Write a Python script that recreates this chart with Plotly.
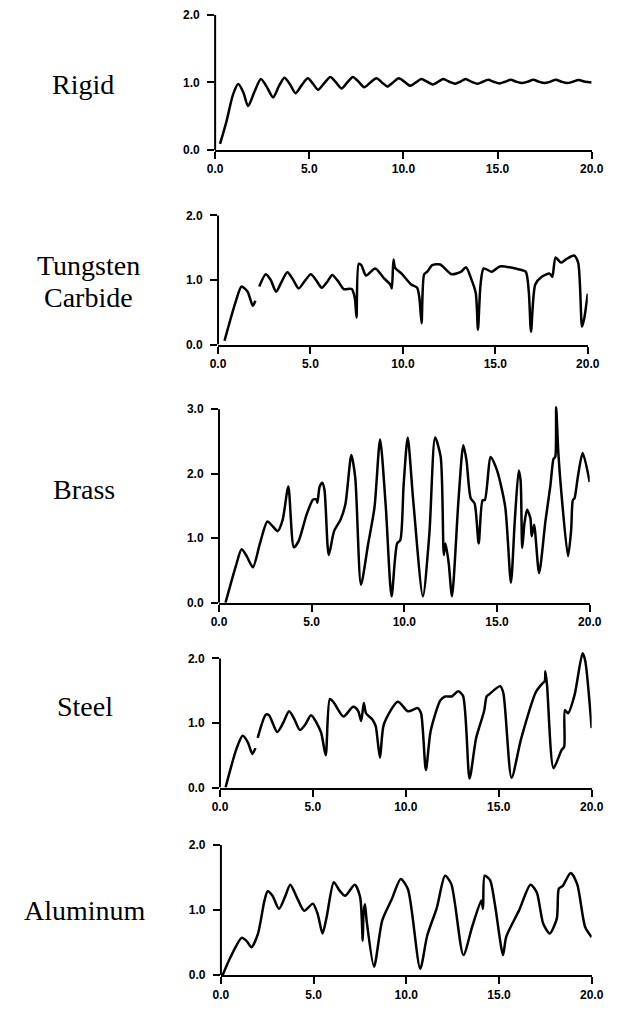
import plotly.graph_objects as go

W, H = 623, 1010

# ---------------- data ----------------
panel_names = ["Rigid", "Tungsten Carbide", "Brass", "Steel", "Aluminum"]

x_tick_vals = [0, 5, 10, 15, 20]
x_tick_text = ["0.0", "5.0", "10.0", "15.0", "20.0"]
y_tick_vals_20 = [0, 10, 20]
y_tick_text_20 = ["0.0", "1.0", "2.0"]
y_tick_vals_30 = [0, 10, 20, 30]
y_tick_text_30 = ["0.0", "1.0", "2.0", "3.0"]

rigid_t = [0.26, 0.6, 0.95, 1.23, 1.5, 1.75, 2.1, 2.43, 2.75, 3.08, 3.38, 3.68, 3.98, 4.27,
           4.6, 4.92, 5.2, 5.47, 5.8, 6.12, 6.42, 6.72, 7.02, 7.32, 7.62, 7.92, 8.25, 8.57,
           8.86, 9.15, 9.45, 9.75, 10.06, 10.37, 10.66, 10.95, 11.26, 11.57, 11.85, 12.12,
           12.44, 12.75, 13.02, 13.3, 13.62, 13.95, 14.22, 14.5, 14.8, 15.1, 15.4, 15.7,
           16.0, 16.3, 16.6, 16.9, 17.2, 17.5, 17.8, 18.1, 18.4, 18.7, 19.0, 19.3, 19.65, 20.0]
rigid_v = [0.9, 4.2, 8.2, 9.75, 8.5, 6.5, 8.7, 10.5, 9.3, 7.8, 9.4, 10.7, 9.7, 8.4,
           9.6, 10.6, 9.8, 8.9, 9.9, 10.8, 10.0, 9.1, 10.0, 10.8, 10.1, 9.3, 10.0, 10.6,
           10.0, 9.4, 10.0, 10.6, 10.1, 9.5, 10.0, 10.5, 10.1, 9.7, 10.1, 10.5,
           10.1, 9.8, 10.1, 10.5, 10.1, 9.8, 10.1, 10.4, 10.1, 9.85, 10.1, 10.4,
           10.1, 9.9, 10.1, 10.4, 10.1, 9.9, 10.1, 10.4, 10.1, 9.9, 10.1, 10.35, 10.1, 10.0]

tungsten_t = [0.35, 0.96, 1.27, 1.6, 1.88, 2.02, None, 2.23, 2.58, 2.85, 3.14, 3.45, 3.75,
              4.05, 4.36, 4.7, 5.02, 5.3, 5.61, 5.9, 6.18, 6.5, 6.8, 7.23, 7.4, 7.49, 7.61,
              7.75, 8.01, 8.5, 8.97, 9.32, 9.4, 9.49, 9.58, 9.93, 10.45, 10.77, 10.89, 11.01,
              11.15, 11.32, 11.59, 12.02, 12.63, 13.15, 13.41, 13.68, 13.94, 14.06, 14.2,
              14.37, 14.81, 15.24, 16.2, 16.64, 16.81, 16.93, 17.16, 17.51, 17.94, 18.08,
              18.26, 18.55, 18.82, 19.25, 19.48, 19.69, 19.81, 20.0]
tungsten_v = [0.6, 6.7, 9.0, 8.2, 6.0, 6.8, None, 9.0, 10.9, 10.0, 8.2, 9.8, 11.2,
              10.1, 8.7, 9.9, 10.9, 10.0, 8.8, 9.7, 10.8, 9.8, 8.6, 8.6, 7.2, 4.2, 12.5,
              12.3, 10.7, 11.8, 10.3, 9.3, 8.7, 13.2, 11.9, 11.0, 9.3, 8.8, 7.3, 3.3,
              10.9, 11.3, 12.3, 12.4, 10.9, 11.3, 12.0, 10.3, 8.0, 2.3, 9.3,
              11.8, 11.3, 12.1, 11.7, 11.3, 8.2, 2.0, 9.3, 10.5, 11.0, 10.5,
              13.5, 12.7, 13.2, 13.8, 12.7, 2.8, 4.1, 7.9]

brass_t = [0.35, 0.9, 1.22, 1.5, 1.83, 2.21, 2.61, 2.91, 3.17, 3.43, 3.74, 4.04, 4.3, 4.73,
           5.08, 5.26, 5.31, 5.43, 5.57, 5.69, 5.92, 6.21, 6.56, 6.82, 7.14, 7.35, 7.66,
           8.04, 8.39, 8.69, 9.0, 9.31, 9.61, 9.78, 9.96, 10.18, 10.48, 11.0, 11.35, 11.66,
           11.96, 12.13, 12.22, 12.39, 12.57, 12.92, 13.18, 13.35, 13.58, 13.79, 14.01,
           14.22, 14.34, 14.66, 15.0, 15.44, 15.75, 15.96, 16.17, 16.27, 16.36, 16.48,
           16.62, 16.8, 16.87, 17.0, 17.27, 17.61, 17.88, 18.05, 18.14, 18.19, 18.31,
           18.49, 18.83, 19.0, 19.09, 19.18, 19.36, 19.62, 20.0]
brass_v = [0.0, 5.6, 8.3, 7.2, 5.5, 9.2, 12.6, 11.8, 11.1, 12.8, 18.0, 8.6, 9.6, 13.7,
           16.0, 16.0, 15.5, 18.0, 18.6, 17.5, 7.4, 11.1, 12.9, 15.3, 22.9, 19.4, 2.8,
           9.0, 14.8, 25.3, 14.8, 1.0, 9.2, 9.7, 18.2, 25.6, 15.8, 1.0, 10.7, 25.6,
           22.6, 7.4, 9.2, 6.2, 1.0, 15.9, 24.4, 22.1, 16.2, 15.4, 9.2,
           15.9, 15.9, 22.6, 20.5, 14.9, 3.1, 12.8, 20.5, 19.0, 8.5, 12.3,
           14.4, 13.1, 10.3, 12.1, 4.6, 12.6, 18.2, 22.3, 22.6, 30.3, 23.1,
           16.4, 7.2, 11.3, 15.9, 16.2, 19.5, 23.2, 18.7]

steel_t = [0.3, 0.9, 1.22, 1.5, 1.74, 1.91, None, 2.03, 2.47, 2.64, 3.08, 3.4, 3.72, 4.0,
           4.3, 4.6, 4.9, 5.43, 5.69, 5.91, 6.12, 6.64, 7.17, 7.43, 7.6, 7.74, 7.86, 8.21,
           8.38, 8.61, 8.82, 9.57, 10.12, 10.64, 10.82, 11.08, 11.34, 11.86, 12.12, 12.47,
           12.82, 13.08, 13.43, 13.78, 14.21, 14.35, 14.47, 15.08, 15.25, 15.69, 16.21,
           17.0, 17.34, 17.48, 17.51, 17.6, 17.95, 18.38, 18.52, 18.56, 18.73, 19.08,
           19.51, 19.65, 20.0]
steel_v = [0.0, 6.1, 8.0, 7.0, 5.2, 6.1, None, 7.7, 11.3, 11.2, 8.6, 10.0, 11.8, 10.6,
           8.9, 9.8, 11.2, 8.6, 5.0, 13.7, 13.2, 11.0, 12.5, 11.9, 10.3, 13.1, 11.5, 10.5,
           9.5, 4.6, 9.8, 13.3, 11.8, 12.3, 11.5, 2.7, 8.8, 13.5, 14.1, 14.1,
           14.9, 14.2, 1.4, 7.6, 11.8, 14.1, 14.4, 15.7, 14.6, 1.5, 7.6,
           14.8, 16.1, 16.5, 18.0, 15.9, 3.0, 5.8, 6.3, 12.0, 11.5, 14.3,
           20.8, 19.7, 9.2]

aluminum_t = [0.09, 0.52, 1.13, 1.4, 1.65, 2.0, 2.35, 2.52, 2.78, 3.13, 3.45, 3.74, 4.09,
              4.49, 4.96, 5.22, 5.48, 5.7, 6.09, 6.4, 6.7, 7.22, 7.51, 7.65, 7.69, 7.77,
              7.86, 8.26, 8.7, 9.22, 9.7, 10.09, 10.75, 11.13, 11.65, 12.09, 12.43, 13.08,
              13.57, 14.05, 14.14, 14.23, 14.52, 14.78, 15.22, 15.39, 16.09, 16.7, 17.04,
              17.39, 17.74, 18.12, 18.23, 18.43, 18.87, 19.22, 19.65, 20.0]
aluminum_v = [0.0, 2.8, 5.75, 5.2, 4.3, 6.4, 11.5, 12.9, 12.2, 10.2, 12.0, 13.9, 12.0,
              9.9, 11.0, 9.4, 6.4, 8.9, 14.3, 13.0, 12.2, 13.9, 12.0, 5.3, 9.4, 10.9,
              8.4, 1.3, 8.4, 11.7, 14.8, 13.2, 1.0, 6.1, 10.4, 15.3, 14.0, 3.1,
              7.6, 11.5, 10.2, 15.3, 14.6, 10.9, 3.1, 5.9, 10.0, 13.9, 12.7,
              7.9, 6.4, 8.7, 13.3, 13.7, 15.7, 14.0, 7.4, 5.85]

series_t = [rigid_t, tungsten_t, brass_t, steel_t, aluminum_t]
series_v = [rigid_v, tungsten_v, brass_v, steel_v, aluminum_v]
y_axis_top = [20, 20, 30, 20, 20]        # value of the top tick / end of y-axis line
y_view_top = [21, 21, 31.5, 22, 21]      # visible value range (room for overshoot)

# ---------------- layout (pixel boxes of each panel) ----------------
x_px = [(214, 603), (217, 599), (218, 601), (219, 603), (220, 603)]
y_px = [(15, 151), (217, 347), (412, 607), (663, 793), (851, 982)]  # (top tick, zero)
label_px = [(77, [(85, "Rigid")]),
            (83, [(267, "Tungsten"), (300, "Carbide")]),
            (79, [(493, "Brass")]),
            (80, [(711, "Steel")]),
            (80, [(917, "Aluminum")])]

fig = go.Figure()
tick_font = dict(family="Liberation Sans", size=12, color="black", weight="bold")
layout = dict(
    width=W, height=H, margin=dict(l=0, r=0, t=0, b=0),
    paper_bgcolor="white", plot_bgcolor="white", showlegend=False,
)
annotations = []
shapes = []
for i in range(5):
    k = "" if i == 0 else str(i + 1)
    fig.add_trace(go.Scatter(
        x=series_t[i], y=series_v[i], mode="lines",
        line=dict(color="black", width=2.5, shape="spline", smoothing=0.7),
        connectgaps=False, xaxis="x" + k, yaxis="y" + k, hoverinfo="skip",
    ))
    x0, x1 = x_px[i]
    yt, yb = y_px[i]
    px_per_unit = (yb - yt) / y_axis_top[i]
    y_dom_top_px = yb - px_per_unit * y_view_top[i]
    layout["xaxis" + k] = dict(
        domain=[x0 / W, x1 / W], range=[0, 20], anchor="y" + k,
        tickvals=x_tick_vals, ticktext=x_tick_text, ticks="outside", ticklen=7,
        tickwidth=2, tickcolor="black", showline=True, linecolor="black", linewidth=2,
        showgrid=False, zeroline=False, tickfont=tick_font, fixedrange=True,
    )
    yv = y_tick_vals_30 if y_axis_top[i] == 30 else y_tick_vals_20
    ytx = y_tick_text_30 if y_axis_top[i] == 30 else y_tick_text_20
    layout["yaxis" + k] = dict(
        domain=[(H - yb) / H, (H - y_dom_top_px) / H], range=[0, y_view_top[i]],
        anchor="x" + k, tickvals=yv, ticktext=ytx, ticks="outside", ticklen=7,
        tickwidth=2, tickcolor="black", showline=False,
        showgrid=False, zeroline=False, tickfont=tick_font, fixedrange=True,
        ticklabelstandoff=5,
    )
    # y-axis line running from 0 up to the top tick only
    shapes.append(dict(type="line", xref="paper", yref="y" + k,
                       x0=x0 / W, x1=x0 / W, y0=0, y1=y_axis_top[i],
                       line=dict(color="black", width=2)))
    cx, lines = label_px[i]
    for cy, txt in lines:
        annotations.append(dict(
            x=cx / W, y=(H - cy) / H, xref="paper", yref="paper", text=txt,
            showarrow=False, xanchor="center", yanchor="middle",
            font=dict(family="Liberation Serif", size=28, color="black"),
        ))
layout["annotations"] = annotations
layout["shapes"] = shapes
fig.update_layout(**layout)
fig.write_html("out.html", config={"displayModeBar": False},
               post_script="document.body.style.margin='0';")
